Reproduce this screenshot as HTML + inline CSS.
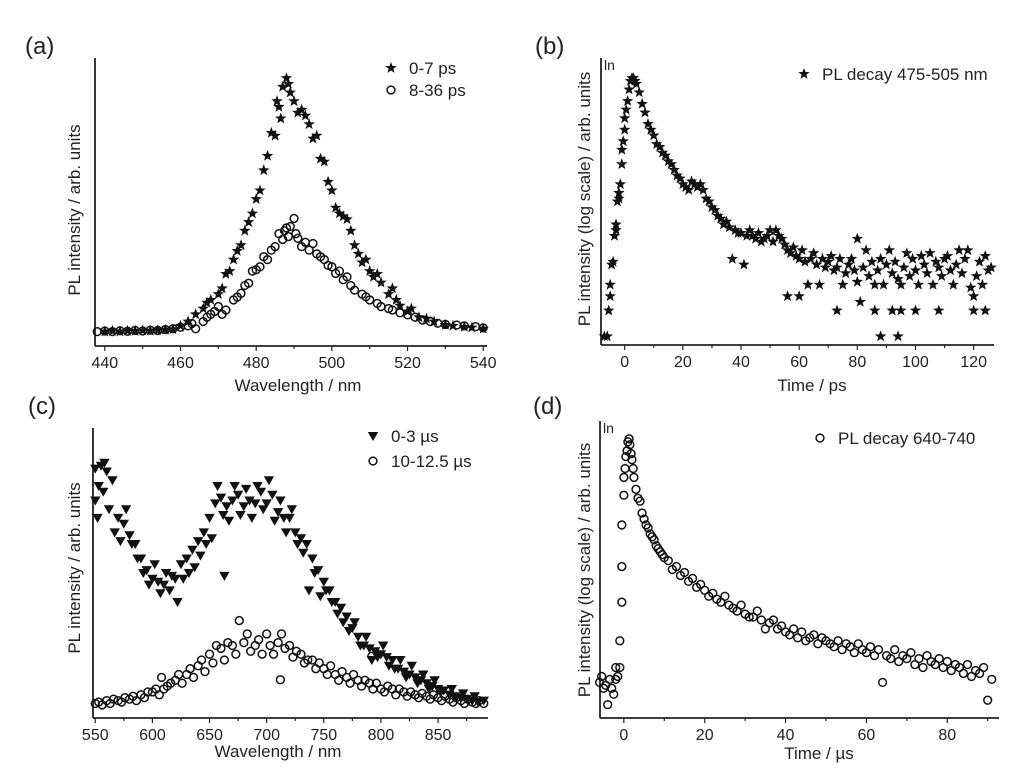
<!DOCTYPE html>
<html><head><meta charset="utf-8">
<style>
html,body{margin:0;padding:0;background:#fff;}
svg{display:block;font-family:"Liberation Sans",Arial,sans-serif;}
</style></head>
<body>
<svg id="fig" width="1024" height="782" viewBox="0 0 1024 782" xmlns="http://www.w3.org/2000/svg"></svg>
<script>
// ---------- Panel (a) data ----------
const aStarX = [440,442,444,446,448,450,452,454,456,458,460,462,464,466,467,468,470,471,472,473,474,475,476,477,478,479,480,481,482,483,484,485,485.5,486,486.5,487,488,488.5,489,490,491,492,493,494,495,496,497,498,499,500,501,502,503,504,505,506,507,508,509,510,511,512,513,515,516,517,518,520,521,523,525,527,530,532,535,537,540];
const aStarY = [0.05,0.052,0.05,0.053,0.052,0.054,0.053,0.055,0.056,0.058,0.07,0.085,0.11,0.13,0.15,0.16,0.18,0.2,0.25,0.26,0.3,0.33,0.35,0.4,0.43,0.46,0.51,0.54,0.61,0.66,0.74,0.73,0.85,0.83,0.79,0.9,0.93,0.91,0.88,0.85,0.81,0.82,0.8,0.77,0.72,0.73,0.65,0.64,0.57,0.54,0.48,0.46,0.45,0.44,0.4,0.35,0.32,0.29,0.3,0.26,0.24,0.25,0.22,0.18,0.2,0.16,0.14,0.12,0.13,0.1,0.095,0.085,0.073,0.07,0.066,0.064,0.06];
const aCircX = [438,440,442,444,446,448,450,452,454,456,458,460,462,463,464,466,467,468,469,470,471,472,474,475,476,477,478,479,480,481,482,483,484,485,486,487,487.5,488,488.5,489,490,490.5,491,492,493,494,495,496,497,498,499,500,501,502,503,504,505,506,508,509,510,512,513,515,516,518,520,522,524,526,528,530,533,535,538,540];
const aCircY = [0.05,0.052,0.05,0.053,0.051,0.054,0.052,0.055,0.054,0.057,0.06,0.065,0.07,0.078,0.06,0.085,0.1,0.11,0.12,0.137,0.11,0.125,0.16,0.17,0.183,0.21,0.218,0.26,0.265,0.275,0.31,0.3,0.333,0.345,0.39,0.37,0.4,0.41,0.38,0.415,0.443,0.39,0.374,0.345,0.36,0.333,0.356,0.32,0.31,0.3,0.28,0.275,0.252,0.26,0.23,0.24,0.21,0.194,0.18,0.171,0.16,0.148,0.137,0.13,0.125,0.115,0.108,0.1,0.09,0.085,0.079,0.075,0.073,0.07,0.067,0.063];

// ---------- Panel (b) data ----------
const bX = [-7,-6,-5.5,-5,-5,-4.5,-4,-3.5,-3,-3,-2.5,-2,-2,-1.5,-1,-1,-0.5,0,0,0.5,1,1.5,2,2.5,3,3.5,4,5,6,7,8,9,10,11,12,13,14,15,16,17,18,19,20,21,22,23,24,25,26,27,28,29,30,31,32,33,34,35,36,37,38,39,40,41,42,43,44,45,46,47,48,49,50,51,52,53,54,55,56,56,57,58,59,60,60,61,62,63,64,65,66,67,68,69,70,71,72,73,73,74,75,76,77,78,79,80,80,81,82,83,84,85,86,86,87,88,88,89,90,91,92,92,93,94,94,95,95,96,97,98,99,100,100,101,102,103,104,105,106,107,108,108,109,110,111,112,113,114,115,116,117,118,119,120,120,121,122,123,124,124,125,126];
const bY = [0.03,0.03,0.12,0.21,0.17,0.28,0.29,0.38,0.4,0.42,0.5,0.51,0.53,0.56,0.63,0.68,0.71,0.75,0.79,0.82,0.85,0.89,0.92,0.93,0.93,0.92,0.91,0.88,0.84,0.81,0.77,0.75,0.73,0.7,0.69,0.67,0.66,0.64,0.63,0.61,0.59,0.58,0.56,0.55,0.54,0.57,0.56,0.55,0.56,0.54,0.51,0.5,0.48,0.47,0.45,0.44,0.42,0.43,0.41,0.3,0.4,0.39,0.39,0.28,0.38,0.4,0.38,0.37,0.39,0.36,0.37,0.38,0.4,0.36,0.4,0.38,0.37,0.35,0.33,0.17,0.32,0.34,0.31,0.3,0.17,0.33,0.29,0.21,0.3,0.32,0.28,0.21,0.3,0.27,0.29,0.31,0.26,0.12,0.27,0.3,0.21,0.25,0.28,0.3,0.26,0.37,0.22,0.15,0.27,0.33,0.24,0.29,0.21,0.12,0.26,0.3,0.03,0.21,0.28,0.33,0.25,0.12,0.29,0.23,0.03,0.12,0.21,0.27,0.32,0.24,0.3,0.12,0.26,0.21,0.31,0.28,0.25,0.32,0.21,0.29,0.27,0.12,0.24,0.3,0.31,0.26,0.21,0.28,0.33,0.25,0.3,0.33,0.2,0.17,0.12,0.24,0.29,0.21,0.31,0.12,0.26,0.27,0.31];

// ---------- Panel (c) data ----------
const cTriX = [550,550,552,553,555,557,558,560,562,565,567,570,572,575,577,580,582,585,587,590,592,595,597,600,602,605,607,610,612,615,617,620,622,625,627,630,632,635,637,640,642,645,647,650,652,655,657,660,662,663,665,667,670,672,675,677,680,682,685,687,690,692,695,697,700,702,705,707,710,712,715,717,720,722,725,727,730,732,735,737,740,742,745,747,750,752,755,757,760,762,765,767,770,772,775,777,780,782,785,787,790,792,795,797,800,802,805,807,810,812,815,817,820,822,825,827,830,832,835,837,840,842,845,847,850,852,855,860,862,865,870,872,875,880,882,885,890];
const cTriY = [0.86,0.75,0.69,0.8,0.87,0.78,0.88,0.85,0.72,0.82,0.64,0.69,0.61,0.67,0.72,0.63,0.6,0.6,0.55,0.55,0.5,0.51,0.46,0.48,0.53,0.47,0.43,0.46,0.5,0.44,0.49,0.48,0.4,0.53,0.48,0.55,0.5,0.58,0.52,0.61,0.56,0.64,0.6,0.69,0.62,0.74,0.8,0.76,0.7,0.49,0.73,0.68,0.75,0.8,0.77,0.7,0.73,0.79,0.75,0.69,0.74,0.8,0.78,0.72,0.74,0.82,0.77,0.68,0.71,0.75,0.69,0.64,0.69,0.72,0.64,0.6,0.62,0.57,0.6,0.44,0.55,0.5,0.51,0.42,0.47,0.44,0.44,0.4,0.4,0.36,0.38,0.33,0.35,0.3,0.31,0.33,0.28,0.25,0.25,0.28,0.24,0.2,0.23,0.21,0.22,0.25,0.21,0.18,0.2,0.17,0.17,0.2,0.16,0.14,0.15,0.18,0.14,0.12,0.13,0.15,0.12,0.1,0.11,0.13,0.1,0.09,0.095,0.08,0.1,0.075,0.07,0.085,0.065,0.06,0.075,0.055,0.06];
const cCirX = [550,553,556,560,563,566,570,573,576,580,583,586,590,593,596,600,603,606,608,610,613,616,620,623,626,630,633,636,640,643,646,650,653,656,660,663,666,670,673,676,680,683,686,690,693,696,700,703,706,710,712,713,716,720,723,726,730,733,736,740,743,746,750,753,756,760,763,766,770,773,776,780,783,786,790,792,793,796,800,803,806,810,813,816,820,823,826,830,833,836,840,843,846,850,853,856,860,863,866,870,873,876,880,883,886,890];
const cCirY = [0.05,0.055,0.045,0.06,0.05,0.065,0.06,0.055,0.07,0.065,0.075,0.06,0.08,0.07,0.09,0.09,0.1,0.08,0.14,0.1,0.11,0.12,0.13,0.15,0.12,0.15,0.17,0.14,0.18,0.2,0.16,0.22,0.19,0.25,0.24,0.2,0.26,0.25,0.22,0.336,0.26,0.29,0.23,0.25,0.27,0.22,0.29,0.25,0.22,0.26,0.132,0.29,0.24,0.25,0.21,0.23,0.22,0.19,0.2,0.2,0.17,0.19,0.17,0.15,0.18,0.15,0.13,0.16,0.14,0.12,0.15,0.13,0.11,0.13,0.12,0.213,0.1,0.12,0.1,0.09,0.11,0.1,0.08,0.1,0.09,0.075,0.09,0.08,0.07,0.085,0.075,0.065,0.08,0.07,0.06,0.075,0.065,0.055,0.07,0.06,0.05,0.065,0.055,0.05,0.06,0.05];

// ---------- Panel (d) data ----------
const dX = [-6,-5.5,-5,-4.5,-4,-3.5,-3,-2.5,-2,-2,-1.5,-1,-1,-0.5,-0.5,-0.5,0,0,0.3,0.5,0.8,1,1.3,1.5,1.8,2,2.3,2.5,3,3.5,4,4.5,5,5.5,6,6.5,7,7.5,8,8.5,9,9.5,10,11,12,13,14,15,16,17,18,19,20,21,22,23,24,25,26,27,28,29,30,31,32,33,34,35,36,37,38,39,40,41,42,43,44,45,46,47,48,49,50,51,52,53,54,55,56,57,58,59,60,61,62,63,64,65,66,67,68,69,70,71,72,73,74,75,76,77,78,79,80,81,82,83,84,85,86,87,88,89,90,91];
const dY = [0.12,0.14,0.1,0.11,0.045,0.13,0.1,0.08,0.17,0.13,0.14,0.17,0.26,0.39,0.51,0.65,0.75,0.81,0.84,0.88,0.9,0.93,0.94,0.92,0.89,0.87,0.84,0.81,0.77,0.74,0.73,0.69,0.67,0.65,0.64,0.62,0.61,0.6,0.58,0.57,0.56,0.55,0.54,0.53,0.5,0.51,0.48,0.49,0.46,0.47,0.44,0.45,0.43,0.41,0.42,0.4,0.39,0.41,0.38,0.37,0.36,0.38,0.35,0.34,0.34,0.36,0.33,0.3,0.32,0.33,0.3,0.31,0.29,0.28,0.3,0.27,0.29,0.26,0.27,0.28,0.25,0.27,0.26,0.25,0.24,0.26,0.23,0.25,0.24,0.22,0.25,0.23,0.22,0.24,0.21,0.23,0.12,0.21,0.2,0.23,0.19,0.21,0.2,0.22,0.18,0.2,0.17,0.21,0.19,0.18,0.2,0.17,0.19,0.16,0.18,0.17,0.15,0.18,0.14,0.16,0.15,0.17,0.06,0.13,0.16,0.15];

// ---------- Axis / panel configuration ----------
const NS = "http://www.w3.org/2000/svg";
const svg = document.getElementById('fig');
function el(tag, attrs, parent){const e=document.createElementNS(NS,tag);for(const k in attrs)e.setAttribute(k,attrs[k]);(parent||svg).appendChild(e);return e;}
function txt(s, attrs, parent){const e=el('text',attrs,parent);e.textContent=s;return e;}

function makeScale(d0,d1,p0,p1){return v=>p0+(v-d0)/(d1-d0)*(p1-p0);}

function drawMarker(g,type,x,y){
  if(type==='star'){
    const pts=[];for(let i=0;i<10;i++){const r=i%2?2.5:6;const a=-Math.PI/2+i*Math.PI/5;pts.push((x+r*Math.cos(a)).toFixed(1)+','+(y+r*Math.sin(a)).toFixed(1));}
    return el('polygon',{points:pts.join(' '),fill:'#111'},g);
  } else if(type==='tri'){
    return el('polygon',{points:`${x-5.2},${y-4} ${x+5.2},${y-4} ${x},${y+5}`,fill:'#111'},g);
  } else {
    return el('circle',{cx:x,cy:y,r:3.9,fill:'none',stroke:'#111','stroke-width':1.5},g);
  }
}

function panel(cfg){
  const g=el('g',{});
  
  
  const xs=makeScale(cfg.xd[0],cfg.xd[1],cfg.ax,cfg.ax2);
  const ys=makeScale(0,1,cfg.ay,cfg.top);
  const ya=el('line',{x1:cfg.ax,y1:cfg.top,x2:cfg.ax,y2:cfg.ay,stroke:'#222','stroke-width':1.8},g);
  
  
  const xa=el('line',{x1:cfg.ax,y1:cfg.ay,x2:cfg.ax2,y2:cfg.ay,stroke:'#222','stroke-width':1.8},g);
  
  
  for(let v=cfg.minorStart; v<=cfg.xd[1]; v+=cfg.minor){
    const X=xs(v); if(X<cfg.ax) continue;
    const isMajor = Math.abs(((v-cfg.majorStart)/cfg.major)-Math.round((v-cfg.majorStart)/cfg.major))<1e-6;
    el('line',{x1:X,y1:cfg.ay,x2:X,y2:cfg.ay+(isMajor?5:3),stroke:'#222','stroke-width':1.2},g);
  }
  cfg.ticks.forEach(t=>{
    const l=txt(String(t),{x:xs(t),y:cfg.ay+22,'font-size':16,'text-anchor':'middle',fill:'#222'},g);
    
    
  });
  const xt=txt(cfg.xtitle,{x:cfg.xtx,y:cfg.xty,'font-size':17,'text-anchor':'middle',fill:'#222'},g);
  
  
  const yt=txt(cfg.ytitle,{x:0,y:0,'font-size':17,'text-anchor':'middle',fill:'#222',transform:`translate(${cfg.ytx},${cfg.yty}) rotate(-90)`},g);
  
  
  const pl=txt(cfg.label,{x:cfg.lx,y:cfg.ly,'font-size':24,fill:'#222'},g);
  
  
  if(cfg.ln){const t=txt('ln',{x:cfg.ax+3,y:cfg.top+12,'font-size':14,fill:'#222'},g);
    
    }
  cfg.series.forEach(s=>{
    const sg=el('g',{},g);
    
    
    for(let i=0;i<s.x.length;i++){
      const m=drawMarker(sg,s.type,xs(s.x[i]),ys(s.y[i]));
      
      
    }
    const lg=el('g',{},g);
    
    
    drawMarker(lg,s.type,s.lgx,s.lgy);
    txt(s.label,{x:s.lgx+18,y:s.lgy+6,'font-size':17,fill:'#222'},lg);
  });
}

panel({name:'panel-a',label:'(a)',lx:25,ly:54,ax:95,ax2:487,top:58,ay:346,xd:[437.4,541],
  minorStart:440,minor:10,majorStart:440,major:20,ticks:[440,460,480,500,520,540],
  xtitle:'Wavelength / nm',xtx:298,xty:391,ytitle:'PL intensity / arb. units',ytx:80,yty:210,
  series:[{name:'series-0-7ps',type:'star',x:aStarX,y:aStarY,lgx:391,lgy:68,label:'0-7 ps'},
          {name:'series-8-36ps',type:'circ',x:aCircX,y:aCircY,lgx:391,lgy:90,label:'8-36 ps'}]});
panel({name:'panel-b',label:'(b)',lx:535,ly:54,ax:601,ax2:994,top:58,ay:345,xd:[-8.15,127],
  minorStart:-0,minor:10,majorStart:0,major:20,ticks:[0,20,40,60,80,100,120],ln:true,
  xtitle:'Time / ps',xtx:812,xty:391,ytitle:'PL intensity (log scale) / arb. units',ytx:590,yty:199,
  series:[{name:'series-pl-decay-475-505',type:'star',x:bX,y:bY,lgx:804,lgy:74,label:'PL decay 475-505 nm'}]});
panel({name:'panel-c',label:'(c)',lx:28,ly:414,ax:93,ax2:488,top:428,ay:718,xd:[548,893.7],
  minorStart:550,minor:25,majorStart:550,major:50,ticks:[550,600,650,700,750,800,850],
  xtitle:'Wavelength / nm',xtx:278,xty:757,ytitle:'PL intensity / arb. units',ytx:80,yty:568,
  series:[{name:'series-0-3us',type:'tri',x:cTriX,y:cTriY,lgx:373,lgy:436,label:'0-3 \u00b5s'},
          {name:'series-10-12.5us',type:'circ',x:cCirX,y:cCirY,lgx:373,lgy:461,label:'10-12.5 \u00b5s'}]});
panel({name:'panel-d',label:'(d)',lx:533,ly:414,ax:600,ax2:999,top:421,ay:718,xd:[-5.9,92.8],
  minorStart:0,minor:10,majorStart:0,major:20,ticks:[0,20,40,60,80],ln:true,
  xtitle:'Time / \u00b5s',xtx:819,xty:759,ytitle:'PL intensity (log scale) / arb. units',ytx:590,yty:570,
  series:[{name:'series-pl-decay-640-740',type:'circ',x:dX,y:dY,lgx:820,lgy:438,label:'PL decay 640-740'}]});
</script>
</body></html>
